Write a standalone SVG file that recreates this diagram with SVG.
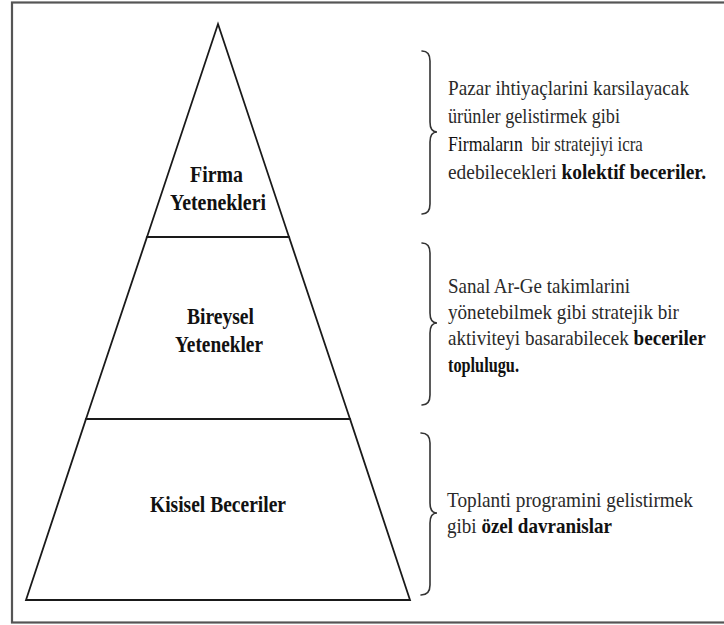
<svg xmlns="http://www.w3.org/2000/svg" width="724" height="625" viewBox="0 0 724 625">
  <style>
    .frame { fill: none; stroke: #555; stroke-width: 2.2; }
    .edge { fill: none; stroke: #1a1a1a; stroke-width: 1.8; stroke-linejoin: miter; }
    .brace { fill: none; stroke: #333; stroke-width: 1.6; stroke-linecap: round; }
    .tier { font-family: "Liberation Serif", "Times New Roman", serif; font-size: 23px; font-weight: bold; fill: #111; }
    .desc { font-family: "Liberation Serif", "Times New Roman", serif; font-size: 21px; fill: #2a2a2a; }
    .b { font-weight: bold; fill: #111; }
    .k { fill: #111; font-size: 22px; }
  </style>
  <rect width="724" height="625" fill="#fff"/>
  <rect class="frame" x="12" y="2.5" width="720" height="620"/>

  <!-- pyramid tiers -->
  <g id="tier-firma">
    <path class="edge" d="M218,24 L289,237 L147,237 Z"/>
    <text class="tier" x="190" y="182" textLength="53" lengthAdjust="spacingAndGlyphs">Firma</text>
    <text class="tier" x="170" y="210" textLength="96" lengthAdjust="spacingAndGlyphs">Yetenekleri</text>
  </g>
  <g id="tier-bireysel">
    <path class="edge" d="M147,237 L289,237 L350,419 L86,419 Z"/>
    <text class="tier" x="187" y="324" textLength="67" lengthAdjust="spacingAndGlyphs">Bireysel</text>
    <text class="tier" x="175" y="352" textLength="88" lengthAdjust="spacingAndGlyphs">Yetenekler</text>
  </g>
  <g id="tier-kisisel">
    <path class="edge" d="M86,419 L350,419 L410,600 L26,600 Z"/>
    <text class="tier" x="150" y="512" textLength="136" lengthAdjust="spacingAndGlyphs">Kisisel Beceriler</text>
  </g>

  <!-- braces linking tiers to descriptions -->
  <g id="connectors">
    <path class="brace" d="M422,51 Q430,51 430,61 L430,122 Q430,132 437,132 Q430,132 430,142 L430,204 Q430,214 422,214"/>
    <path class="brace" d="M422,243 Q430,243 430,253 L430,313 Q430,323 437,323 Q430,323 430,333 L430,395 Q430,405 422,405"/>
    <path class="brace" d="M421,433 Q430,433 430,443 L430,503 Q430,513 437,513 Q430,513 430,523 L430,585 Q430,595 421,595"/>
  </g>

  <!-- descriptions -->
  <g id="desc-firma">
    <text class="desc" x="448" y="95" textLength="241" lengthAdjust="spacingAndGlyphs">Pazar ihtiyaçlarini karsilayacak</text>
    <text class="desc" x="448" y="123" textLength="172" lengthAdjust="spacingAndGlyphs">ürünler gelistirmek gibi</text>
    <text class="desc" xml:space="preserve" transform="translate(448,151) scale(0.805,1)"><tspan class="k">Firmaların</tspan>  bir stratejiyi icra</text>
    <text class="desc" x="448" y="179" textLength="258" lengthAdjust="spacingAndGlyphs">edebilecekleri <tspan class="b">kolektif beceriler.</tspan></text>
  </g>
  <g id="desc-bireysel">
    <text class="desc" x="448" y="293" textLength="182" lengthAdjust="spacingAndGlyphs">Sanal Ar-Ge takimlarini</text>
    <text class="desc" x="448" y="319" textLength="231" lengthAdjust="spacingAndGlyphs">yönetebilmek gibi stratejik bir</text>
    <text class="desc" transform="translate(448,345) scale(0.91,1)">aktiviteyi basarabilecek <tspan class="b">beceriler</tspan></text>
    <text class="desc b" x="448" y="372" textLength="71" lengthAdjust="spacingAndGlyphs">toplulugu.</text>
  </g>
  <g id="desc-kisisel">
    <text class="desc" x="447" y="507" textLength="246" lengthAdjust="spacingAndGlyphs">Toplanti programini gelistirmek</text>
    <text class="desc" x="447" y="533" textLength="165" lengthAdjust="spacingAndGlyphs">gibi <tspan class="b">özel davranislar</tspan></text>
  </g>
</svg>
